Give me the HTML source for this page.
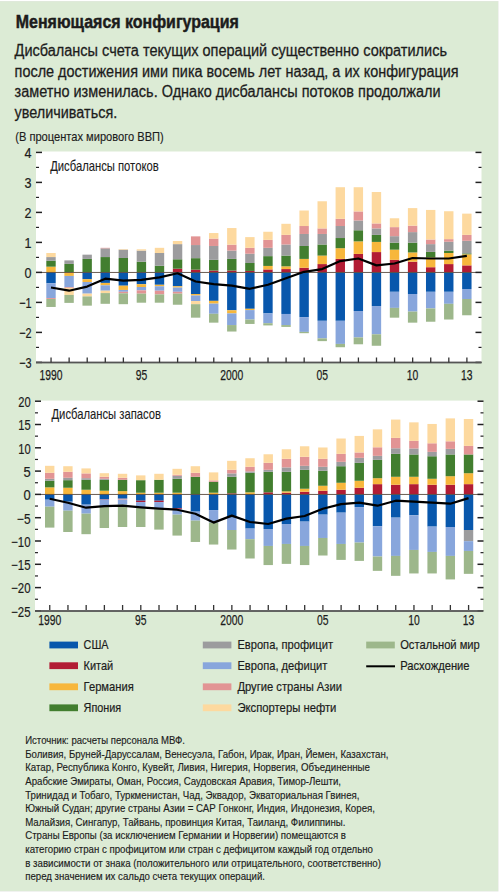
<!DOCTYPE html>
<html><head><meta charset="utf-8"><style>
html,body{margin:0;padding:0;background:#fff;width:500px;height:893px;overflow:hidden}
svg{position:absolute;left:0;top:0;display:block}
text{font-family:'Liberation Sans', sans-serif}
</style></head><body>
<svg width="500" height="893" viewBox="0 0 500 893">
<rect x="0" y="1" width="498.5" height="890.5" fill="#e2e6df"/>
<rect x="0" y="1.5" width="498" height="889.5" fill="#dcebd5"/>
<rect x="36" y="151.5" width="445.5" height="211.0" fill="#fff"/>
<rect x="46.30" y="266.67" width="9.4" height="5.73" fill="#f7b73c"/>
<rect x="46.30" y="260.76" width="9.4" height="5.91" fill="#427e2f"/>
<rect x="46.30" y="257.06" width="9.4" height="3.70" fill="#9c9c9e"/>
<rect x="46.30" y="253.00" width="9.4" height="4.07" fill="#fdd99f"/>
<rect x="46.30" y="272.40" width="9.4" height="10.90" fill="#0857ac"/>
<rect x="46.30" y="283.30" width="9.4" height="14.78" fill="#88a6dc"/>
<rect x="46.30" y="298.08" width="9.4" height="0.92" fill="#e29494"/>
<rect x="46.30" y="299.01" width="9.4" height="7.95" fill="#9db78b"/>
<rect x="64.38" y="263.90" width="9.4" height="8.50" fill="#427e2f"/>
<rect x="64.38" y="260.39" width="9.4" height="3.51" fill="#9c9c9e"/>
<rect x="64.38" y="272.40" width="9.4" height="3.51" fill="#f7b73c"/>
<rect x="64.38" y="275.91" width="9.4" height="11.27" fill="#88a6dc"/>
<rect x="64.38" y="287.18" width="9.4" height="0.74" fill="#e29494"/>
<rect x="64.38" y="287.92" width="9.4" height="7.02" fill="#fdd99f"/>
<rect x="64.38" y="294.94" width="9.4" height="7.95" fill="#9db78b"/>
<rect x="82.46" y="258.91" width="9.4" height="13.49" fill="#427e2f"/>
<rect x="82.46" y="254.66" width="9.4" height="4.25" fill="#9c9c9e"/>
<rect x="82.46" y="272.40" width="9.4" height="6.84" fill="#0857ac"/>
<rect x="82.46" y="279.24" width="9.4" height="2.77" fill="#f7b73c"/>
<rect x="82.46" y="282.01" width="9.4" height="11.64" fill="#88a6dc"/>
<rect x="82.46" y="293.65" width="9.4" height="2.77" fill="#fdd99f"/>
<rect x="82.46" y="296.42" width="9.4" height="9.24" fill="#9db78b"/>
<rect x="100.54" y="257.06" width="9.4" height="15.34" fill="#427e2f"/>
<rect x="100.54" y="248.38" width="9.4" height="8.68" fill="#9c9c9e"/>
<rect x="100.54" y="247.82" width="9.4" height="0.55" fill="#e29494"/>
<rect x="100.54" y="272.40" width="9.4" height="10.53" fill="#0857ac"/>
<rect x="100.54" y="282.93" width="9.4" height="2.40" fill="#f7b73c"/>
<rect x="100.54" y="285.33" width="9.4" height="5.36" fill="#88a6dc"/>
<rect x="100.54" y="290.69" width="9.4" height="2.40" fill="#fdd99f"/>
<rect x="100.54" y="293.09" width="9.4" height="10.72" fill="#9db78b"/>
<rect x="118.62" y="257.99" width="9.4" height="14.41" fill="#427e2f"/>
<rect x="118.62" y="249.67" width="9.4" height="8.31" fill="#9c9c9e"/>
<rect x="118.62" y="249.12" width="9.4" height="0.55" fill="#fdd99f"/>
<rect x="118.62" y="272.40" width="9.4" height="13.30" fill="#0857ac"/>
<rect x="118.62" y="285.70" width="9.4" height="4.25" fill="#f7b73c"/>
<rect x="118.62" y="289.95" width="9.4" height="1.85" fill="#88a6dc"/>
<rect x="118.62" y="291.80" width="9.4" height="1.48" fill="#e29494"/>
<rect x="118.62" y="293.28" width="9.4" height="10.90" fill="#9db78b"/>
<rect x="136.70" y="261.68" width="9.4" height="10.72" fill="#427e2f"/>
<rect x="136.70" y="250.59" width="9.4" height="11.09" fill="#9c9c9e"/>
<rect x="136.70" y="249.30" width="9.4" height="1.29" fill="#fdd99f"/>
<rect x="136.70" y="272.40" width="9.4" height="11.82" fill="#0857ac"/>
<rect x="136.70" y="284.22" width="9.4" height="2.77" fill="#f7b73c"/>
<rect x="136.70" y="287.00" width="9.4" height="3.33" fill="#88a6dc"/>
<rect x="136.70" y="290.32" width="9.4" height="3.33" fill="#e29494"/>
<rect x="136.70" y="293.65" width="9.4" height="9.05" fill="#9db78b"/>
<rect x="154.78" y="265.75" width="9.4" height="6.65" fill="#427e2f"/>
<rect x="154.78" y="253.00" width="9.4" height="12.75" fill="#9c9c9e"/>
<rect x="154.78" y="247.82" width="9.4" height="5.17" fill="#fdd99f"/>
<rect x="154.78" y="272.40" width="9.4" height="12.38" fill="#0857ac"/>
<rect x="154.78" y="284.78" width="9.4" height="1.48" fill="#f7b73c"/>
<rect x="154.78" y="286.26" width="9.4" height="4.43" fill="#88a6dc"/>
<rect x="154.78" y="290.69" width="9.4" height="3.70" fill="#e29494"/>
<rect x="154.78" y="294.39" width="9.4" height="8.31" fill="#9db78b"/>
<rect x="172.86" y="268.70" width="9.4" height="3.70" fill="#b21c34"/>
<rect x="172.86" y="259.28" width="9.4" height="9.42" fill="#427e2f"/>
<rect x="172.86" y="244.13" width="9.4" height="15.15" fill="#9c9c9e"/>
<rect x="172.86" y="240.99" width="9.4" height="3.14" fill="#fdd99f"/>
<rect x="172.86" y="272.40" width="9.4" height="13.86" fill="#0857ac"/>
<rect x="172.86" y="286.26" width="9.4" height="1.29" fill="#f7b73c"/>
<rect x="172.86" y="287.55" width="9.4" height="4.25" fill="#88a6dc"/>
<rect x="172.86" y="291.80" width="9.4" height="1.85" fill="#e29494"/>
<rect x="172.86" y="293.65" width="9.4" height="11.09" fill="#9db78b"/>
<rect x="190.94" y="269.63" width="9.4" height="2.77" fill="#b21c34"/>
<rect x="190.94" y="258.17" width="9.4" height="11.46" fill="#427e2f"/>
<rect x="190.94" y="245.05" width="9.4" height="13.12" fill="#9c9c9e"/>
<rect x="190.94" y="236.37" width="9.4" height="8.68" fill="#e29494"/>
<rect x="190.94" y="272.40" width="9.4" height="21.62" fill="#0857ac"/>
<rect x="190.94" y="294.02" width="9.4" height="1.48" fill="#f7b73c"/>
<rect x="190.94" y="295.50" width="9.4" height="5.54" fill="#88a6dc"/>
<rect x="190.94" y="301.04" width="9.4" height="3.14" fill="#fdd99f"/>
<rect x="190.94" y="304.18" width="9.4" height="13.49" fill="#9db78b"/>
<rect x="209.02" y="270.55" width="9.4" height="1.85" fill="#b21c34"/>
<rect x="209.02" y="259.83" width="9.4" height="10.72" fill="#427e2f"/>
<rect x="209.02" y="245.98" width="9.4" height="13.86" fill="#9c9c9e"/>
<rect x="209.02" y="238.58" width="9.4" height="7.39" fill="#e29494"/>
<rect x="209.02" y="233.04" width="9.4" height="5.54" fill="#fdd99f"/>
<rect x="209.02" y="272.40" width="9.4" height="28.45" fill="#0857ac"/>
<rect x="209.02" y="300.85" width="9.4" height="2.77" fill="#f7b73c"/>
<rect x="209.02" y="303.63" width="9.4" height="10.16" fill="#88a6dc"/>
<rect x="209.02" y="313.79" width="9.4" height="8.87" fill="#9db78b"/>
<rect x="227.10" y="270.55" width="9.4" height="1.85" fill="#b21c34"/>
<rect x="227.10" y="258.91" width="9.4" height="11.64" fill="#427e2f"/>
<rect x="227.10" y="250.59" width="9.4" height="8.31" fill="#9c9c9e"/>
<rect x="227.10" y="244.68" width="9.4" height="5.91" fill="#e29494"/>
<rect x="227.10" y="228.05" width="9.4" height="16.63" fill="#fdd99f"/>
<rect x="227.10" y="272.40" width="9.4" height="37.88" fill="#0857ac"/>
<rect x="227.10" y="310.28" width="9.4" height="3.14" fill="#f7b73c"/>
<rect x="227.10" y="313.42" width="9.4" height="11.64" fill="#88a6dc"/>
<rect x="227.10" y="325.06" width="9.4" height="6.47" fill="#9db78b"/>
<rect x="245.18" y="270.92" width="9.4" height="1.48" fill="#b21c34"/>
<rect x="245.18" y="262.97" width="9.4" height="7.95" fill="#427e2f"/>
<rect x="245.18" y="253.74" width="9.4" height="9.24" fill="#9c9c9e"/>
<rect x="245.18" y="247.82" width="9.4" height="5.91" fill="#e29494"/>
<rect x="245.18" y="237.11" width="9.4" height="10.72" fill="#fdd99f"/>
<rect x="245.18" y="272.40" width="9.4" height="36.40" fill="#0857ac"/>
<rect x="245.18" y="308.80" width="9.4" height="1.29" fill="#f7b73c"/>
<rect x="245.18" y="310.09" width="9.4" height="9.42" fill="#88a6dc"/>
<rect x="245.18" y="319.52" width="9.4" height="4.43" fill="#9db78b"/>
<rect x="263.26" y="269.44" width="9.4" height="2.96" fill="#b21c34"/>
<rect x="263.26" y="265.93" width="9.4" height="3.51" fill="#f7b73c"/>
<rect x="263.26" y="256.14" width="9.4" height="9.79" fill="#427e2f"/>
<rect x="263.26" y="247.82" width="9.4" height="8.31" fill="#9c9c9e"/>
<rect x="263.26" y="239.88" width="9.4" height="7.95" fill="#e29494"/>
<rect x="263.26" y="231.75" width="9.4" height="8.13" fill="#fdd99f"/>
<rect x="263.26" y="272.40" width="9.4" height="41.02" fill="#0857ac"/>
<rect x="263.26" y="313.42" width="9.4" height="9.79" fill="#88a6dc"/>
<rect x="263.26" y="323.21" width="9.4" height="2.22" fill="#9db78b"/>
<rect x="281.34" y="269.07" width="9.4" height="3.33" fill="#b21c34"/>
<rect x="281.34" y="266.30" width="9.4" height="2.77" fill="#f7b73c"/>
<rect x="281.34" y="255.58" width="9.4" height="10.72" fill="#427e2f"/>
<rect x="281.34" y="244.50" width="9.4" height="11.09" fill="#9c9c9e"/>
<rect x="281.34" y="234.89" width="9.4" height="9.61" fill="#e29494"/>
<rect x="281.34" y="223.80" width="9.4" height="11.09" fill="#fdd99f"/>
<rect x="281.34" y="272.40" width="9.4" height="41.57" fill="#0857ac"/>
<rect x="281.34" y="313.97" width="9.4" height="11.09" fill="#88a6dc"/>
<rect x="281.34" y="325.06" width="9.4" height="1.85" fill="#9db78b"/>
<rect x="299.42" y="267.78" width="9.4" height="4.62" fill="#b21c34"/>
<rect x="299.42" y="258.91" width="9.4" height="8.87" fill="#f7b73c"/>
<rect x="299.42" y="245.98" width="9.4" height="12.93" fill="#427e2f"/>
<rect x="299.42" y="233.97" width="9.4" height="12.01" fill="#9c9c9e"/>
<rect x="299.42" y="226.02" width="9.4" height="7.95" fill="#e29494"/>
<rect x="299.42" y="210.50" width="9.4" height="15.52" fill="#fdd99f"/>
<rect x="299.42" y="272.40" width="9.4" height="44.71" fill="#0857ac"/>
<rect x="299.42" y="317.11" width="9.4" height="14.78" fill="#88a6dc"/>
<rect x="299.42" y="331.90" width="9.4" height="1.29" fill="#9db78b"/>
<rect x="317.50" y="264.08" width="9.4" height="8.32" fill="#b21c34"/>
<rect x="317.50" y="255.58" width="9.4" height="8.50" fill="#f7b73c"/>
<rect x="317.50" y="244.50" width="9.4" height="11.09" fill="#427e2f"/>
<rect x="317.50" y="233.97" width="9.4" height="10.53" fill="#9c9c9e"/>
<rect x="317.50" y="228.42" width="9.4" height="5.54" fill="#e29494"/>
<rect x="317.50" y="201.26" width="9.4" height="27.16" fill="#fdd99f"/>
<rect x="317.50" y="272.40" width="9.4" height="48.41" fill="#0857ac"/>
<rect x="317.50" y="320.81" width="9.4" height="17.55" fill="#88a6dc"/>
<rect x="317.50" y="338.36" width="9.4" height="2.77" fill="#9db78b"/>
<rect x="335.58" y="258.91" width="9.4" height="13.49" fill="#b21c34"/>
<rect x="335.58" y="248.19" width="9.4" height="10.72" fill="#f7b73c"/>
<rect x="335.58" y="238.03" width="9.4" height="10.16" fill="#427e2f"/>
<rect x="335.58" y="226.02" width="9.4" height="12.01" fill="#9c9c9e"/>
<rect x="335.58" y="218.81" width="9.4" height="7.21" fill="#e29494"/>
<rect x="335.58" y="187.22" width="9.4" height="31.60" fill="#fdd99f"/>
<rect x="335.58" y="272.40" width="9.4" height="48.41" fill="#0857ac"/>
<rect x="335.58" y="320.81" width="9.4" height="23.10" fill="#88a6dc"/>
<rect x="335.58" y="343.91" width="9.4" height="3.33" fill="#9db78b"/>
<rect x="353.66" y="253.92" width="9.4" height="18.48" fill="#b21c34"/>
<rect x="353.66" y="241.36" width="9.4" height="12.56" fill="#f7b73c"/>
<rect x="353.66" y="230.27" width="9.4" height="11.09" fill="#427e2f"/>
<rect x="353.66" y="220.48" width="9.4" height="9.79" fill="#9c9c9e"/>
<rect x="353.66" y="211.42" width="9.4" height="9.05" fill="#e29494"/>
<rect x="353.66" y="187.22" width="9.4" height="24.21" fill="#fdd99f"/>
<rect x="353.66" y="272.40" width="9.4" height="38.62" fill="#0857ac"/>
<rect x="353.66" y="311.02" width="9.4" height="26.42" fill="#88a6dc"/>
<rect x="353.66" y="337.44" width="9.4" height="6.84" fill="#9db78b"/>
<rect x="371.74" y="252.07" width="9.4" height="20.33" fill="#b21c34"/>
<rect x="371.74" y="241.91" width="9.4" height="10.16" fill="#f7b73c"/>
<rect x="371.74" y="234.89" width="9.4" height="7.02" fill="#427e2f"/>
<rect x="371.74" y="228.42" width="9.4" height="6.47" fill="#9c9c9e"/>
<rect x="371.74" y="223.43" width="9.4" height="4.99" fill="#e29494"/>
<rect x="371.74" y="192.02" width="9.4" height="31.41" fill="#fdd99f"/>
<rect x="371.74" y="272.40" width="9.4" height="33.63" fill="#0857ac"/>
<rect x="371.74" y="306.03" width="9.4" height="28.27" fill="#88a6dc"/>
<rect x="371.74" y="334.30" width="9.4" height="11.46" fill="#9db78b"/>
<rect x="389.82" y="259.83" width="9.4" height="12.57" fill="#b21c34"/>
<rect x="389.82" y="249.67" width="9.4" height="10.16" fill="#f7b73c"/>
<rect x="389.82" y="242.65" width="9.4" height="7.02" fill="#427e2f"/>
<rect x="389.82" y="236.18" width="9.4" height="6.47" fill="#9c9c9e"/>
<rect x="389.82" y="227.13" width="9.4" height="9.05" fill="#e29494"/>
<rect x="389.82" y="218.26" width="9.4" height="8.87" fill="#fdd99f"/>
<rect x="389.82" y="272.40" width="9.4" height="19.40" fill="#0857ac"/>
<rect x="389.82" y="291.80" width="9.4" height="16.08" fill="#88a6dc"/>
<rect x="389.82" y="307.88" width="9.4" height="9.79" fill="#9db78b"/>
<rect x="407.90" y="261.68" width="9.4" height="10.72" fill="#b21c34"/>
<rect x="407.90" y="252.44" width="9.4" height="9.24" fill="#f7b73c"/>
<rect x="407.90" y="242.65" width="9.4" height="9.79" fill="#427e2f"/>
<rect x="407.90" y="232.12" width="9.4" height="10.53" fill="#9c9c9e"/>
<rect x="407.90" y="225.65" width="9.4" height="6.47" fill="#e29494"/>
<rect x="407.90" y="208.10" width="9.4" height="17.55" fill="#fdd99f"/>
<rect x="407.90" y="272.40" width="9.4" height="21.62" fill="#0857ac"/>
<rect x="407.90" y="294.02" width="9.4" height="17.55" fill="#88a6dc"/>
<rect x="407.90" y="311.57" width="9.4" height="11.09" fill="#9db78b"/>
<rect x="425.98" y="267.22" width="9.4" height="5.18" fill="#b21c34"/>
<rect x="425.98" y="257.43" width="9.4" height="9.79" fill="#f7b73c"/>
<rect x="425.98" y="251.89" width="9.4" height="5.54" fill="#427e2f"/>
<rect x="425.98" y="244.13" width="9.4" height="7.76" fill="#9c9c9e"/>
<rect x="425.98" y="239.51" width="9.4" height="4.62" fill="#e29494"/>
<rect x="425.98" y="209.94" width="9.4" height="29.56" fill="#fdd99f"/>
<rect x="425.98" y="272.40" width="9.4" height="19.40" fill="#0857ac"/>
<rect x="425.98" y="291.80" width="9.4" height="16.63" fill="#88a6dc"/>
<rect x="425.98" y="308.43" width="9.4" height="13.30" fill="#9db78b"/>
<rect x="444.06" y="264.08" width="9.4" height="8.32" fill="#b21c34"/>
<rect x="444.06" y="253.00" width="9.4" height="11.09" fill="#f7b73c"/>
<rect x="444.06" y="250.59" width="9.4" height="2.40" fill="#427e2f"/>
<rect x="444.06" y="241.73" width="9.4" height="8.87" fill="#9c9c9e"/>
<rect x="444.06" y="239.14" width="9.4" height="2.59" fill="#e29494"/>
<rect x="444.06" y="211.24" width="9.4" height="27.90" fill="#fdd99f"/>
<rect x="444.06" y="272.40" width="9.4" height="19.40" fill="#0857ac"/>
<rect x="444.06" y="291.80" width="9.4" height="12.01" fill="#88a6dc"/>
<rect x="444.06" y="303.81" width="9.4" height="15.71" fill="#9db78b"/>
<rect x="462.14" y="265.38" width="9.4" height="7.02" fill="#b21c34"/>
<rect x="462.14" y="254.29" width="9.4" height="11.09" fill="#f7b73c"/>
<rect x="462.14" y="253.37" width="9.4" height="0.92" fill="#427e2f"/>
<rect x="462.14" y="240.80" width="9.4" height="12.56" fill="#9c9c9e"/>
<rect x="462.14" y="234.89" width="9.4" height="5.91" fill="#e29494"/>
<rect x="462.14" y="213.64" width="9.4" height="21.25" fill="#fdd99f"/>
<rect x="462.14" y="272.40" width="9.4" height="16.63" fill="#0857ac"/>
<rect x="462.14" y="289.03" width="9.4" height="9.98" fill="#88a6dc"/>
<rect x="462.14" y="299.01" width="9.4" height="16.26" fill="#9db78b"/>
<rect x="36" y="271.95" width="445.5" height="0.9" fill="#5a4a3e"/>
<polyline points="51.00,287.5 69.08,290.7 87.16,286.6 105.24,278.7 123.32,280.7 141.40,279.8 159.48,277.4 177.56,273.3 195.64,281.5 213.72,284.2 231.80,285.7 249.88,288.8 267.96,284.8 286.04,278.3 304.12,271.8 322.20,269.1 340.28,261.1 358.36,258.5 376.44,265.4 394.52,263.5 412.60,258.0 430.68,258.5 448.76,258.5 466.84,255.8" fill="none" stroke="#000" stroke-width="2.2" stroke-linejoin="round"/>
<rect x="36" y="151.65" width="6" height="1.5" fill="#222"/>
<rect x="475.5" y="151.65" width="6" height="1.5" fill="#222"/>
<rect x="36" y="166.80" width="3" height="1.2" fill="#222"/>
<rect x="478.5" y="166.80" width="3" height="1.2" fill="#222"/>
<text x="31.6" y="157.6" font-size="14.6" font-weight="normal" text-anchor="end" fill="#1c1c1c" textLength="7.0" lengthAdjust="spacingAndGlyphs" stroke="#1c1c1c" stroke-width="0.2">4</text>
<rect x="36" y="181.65" width="6" height="1.5" fill="#222"/>
<rect x="475.5" y="181.65" width="6" height="1.5" fill="#222"/>
<rect x="36" y="196.80" width="3" height="1.2" fill="#222"/>
<rect x="478.5" y="196.80" width="3" height="1.2" fill="#222"/>
<text x="31.6" y="187.6" font-size="14.6" font-weight="normal" text-anchor="end" fill="#1c1c1c" textLength="7.0" lengthAdjust="spacingAndGlyphs" stroke="#1c1c1c" stroke-width="0.2">3</text>
<rect x="36" y="211.65" width="6" height="1.5" fill="#222"/>
<rect x="475.5" y="211.65" width="6" height="1.5" fill="#222"/>
<rect x="36" y="226.80" width="3" height="1.2" fill="#222"/>
<rect x="478.5" y="226.80" width="3" height="1.2" fill="#222"/>
<text x="31.6" y="217.6" font-size="14.6" font-weight="normal" text-anchor="end" fill="#1c1c1c" textLength="7.0" lengthAdjust="spacingAndGlyphs" stroke="#1c1c1c" stroke-width="0.2">2</text>
<rect x="36" y="241.65" width="6" height="1.5" fill="#222"/>
<rect x="475.5" y="241.65" width="6" height="1.5" fill="#222"/>
<rect x="36" y="256.80" width="3" height="1.2" fill="#222"/>
<rect x="478.5" y="256.80" width="3" height="1.2" fill="#222"/>
<text x="31.6" y="247.6" font-size="14.6" font-weight="normal" text-anchor="end" fill="#1c1c1c" textLength="7.0" lengthAdjust="spacingAndGlyphs" stroke="#1c1c1c" stroke-width="0.2">1</text>
<rect x="36" y="271.65" width="6" height="1.5" fill="#222"/>
<rect x="475.5" y="271.65" width="6" height="1.5" fill="#222"/>
<rect x="36" y="286.80" width="3" height="1.2" fill="#222"/>
<rect x="478.5" y="286.80" width="3" height="1.2" fill="#222"/>
<text x="31.6" y="277.6" font-size="14.6" font-weight="normal" text-anchor="end" fill="#1c1c1c" textLength="7.0" lengthAdjust="spacingAndGlyphs" stroke="#1c1c1c" stroke-width="0.2">0</text>
<rect x="36" y="301.65" width="6" height="1.5" fill="#222"/>
<rect x="475.5" y="301.65" width="6" height="1.5" fill="#222"/>
<rect x="36" y="316.80" width="3" height="1.2" fill="#222"/>
<rect x="478.5" y="316.80" width="3" height="1.2" fill="#222"/>
<text x="31.6" y="307.6" font-size="14.6" font-weight="normal" text-anchor="end" fill="#1c1c1c" textLength="12.4" lengthAdjust="spacingAndGlyphs" stroke="#1c1c1c" stroke-width="0.2">−1</text>
<rect x="36" y="331.65" width="6" height="1.5" fill="#222"/>
<rect x="475.5" y="331.65" width="6" height="1.5" fill="#222"/>
<rect x="36" y="346.80" width="3" height="1.2" fill="#222"/>
<rect x="478.5" y="346.80" width="3" height="1.2" fill="#222"/>
<text x="31.6" y="337.6" font-size="14.6" font-weight="normal" text-anchor="end" fill="#1c1c1c" textLength="12.4" lengthAdjust="spacingAndGlyphs" stroke="#1c1c1c" stroke-width="0.2">−2</text>
<rect x="36" y="361.65" width="6" height="1.5" fill="#222"/>
<rect x="475.5" y="361.65" width="6" height="1.5" fill="#222"/>
<text x="31.6" y="367.6" font-size="14.6" font-weight="normal" text-anchor="end" fill="#1c1c1c" textLength="12.4" lengthAdjust="spacingAndGlyphs" stroke="#1c1c1c" stroke-width="0.2">−3</text>
<rect x="36" y="361.6" width="445.5" height="1.8" fill="#555"/>
<rect x="50.40" y="357.5" width="1.3" height="5" fill="#333"/>
<rect x="68.48" y="357.5" width="1.3" height="5" fill="#333"/>
<rect x="86.56" y="357.5" width="1.3" height="5" fill="#333"/>
<rect x="104.64" y="357.5" width="1.3" height="5" fill="#333"/>
<rect x="122.72" y="357.5" width="1.3" height="5" fill="#333"/>
<rect x="140.80" y="357.5" width="1.3" height="5" fill="#333"/>
<rect x="158.88" y="357.5" width="1.3" height="5" fill="#333"/>
<rect x="176.96" y="357.5" width="1.3" height="5" fill="#333"/>
<rect x="195.04" y="357.5" width="1.3" height="5" fill="#333"/>
<rect x="213.12" y="357.5" width="1.3" height="5" fill="#333"/>
<rect x="231.20" y="357.5" width="1.3" height="5" fill="#333"/>
<rect x="249.28" y="357.5" width="1.3" height="5" fill="#333"/>
<rect x="267.36" y="357.5" width="1.3" height="5" fill="#333"/>
<rect x="285.44" y="357.5" width="1.3" height="5" fill="#333"/>
<rect x="303.52" y="357.5" width="1.3" height="5" fill="#333"/>
<rect x="321.60" y="357.5" width="1.3" height="5" fill="#333"/>
<rect x="339.68" y="357.5" width="1.3" height="5" fill="#333"/>
<rect x="357.76" y="357.5" width="1.3" height="5" fill="#333"/>
<rect x="375.84" y="357.5" width="1.3" height="5" fill="#333"/>
<rect x="393.92" y="357.5" width="1.3" height="5" fill="#333"/>
<rect x="412.00" y="357.5" width="1.3" height="5" fill="#333"/>
<rect x="430.08" y="357.5" width="1.3" height="5" fill="#333"/>
<rect x="448.16" y="357.5" width="1.3" height="5" fill="#333"/>
<rect x="466.24" y="357.5" width="1.3" height="5" fill="#333"/>
<text x="51.00" y="379.7" font-size="15" font-weight="normal" text-anchor="middle" fill="#1c1c1c" textLength="23" lengthAdjust="spacingAndGlyphs" stroke="#1c1c1c" stroke-width="0.25">1990</text>
<text x="141.40" y="379.7" font-size="15" font-weight="normal" text-anchor="middle" fill="#1c1c1c" textLength="11.5" lengthAdjust="spacingAndGlyphs" stroke="#1c1c1c" stroke-width="0.25">95</text>
<text x="231.80" y="379.7" font-size="15" font-weight="normal" text-anchor="middle" fill="#1c1c1c" textLength="23" lengthAdjust="spacingAndGlyphs" stroke="#1c1c1c" stroke-width="0.25">2000</text>
<text x="322.20" y="379.7" font-size="15" font-weight="normal" text-anchor="middle" fill="#1c1c1c" textLength="11.5" lengthAdjust="spacingAndGlyphs" stroke="#1c1c1c" stroke-width="0.25">05</text>
<text x="412.60" y="379.7" font-size="15" font-weight="normal" text-anchor="middle" fill="#1c1c1c" textLength="11.5" lengthAdjust="spacingAndGlyphs" stroke="#1c1c1c" stroke-width="0.25">10</text>
<text x="466.84" y="379.7" font-size="15" font-weight="normal" text-anchor="middle" fill="#1c1c1c" textLength="11.5" lengthAdjust="spacingAndGlyphs" stroke="#1c1c1c" stroke-width="0.25">13</text>
<text x="50.2" y="170.5" font-size="15" font-weight="normal" text-anchor="start" fill="#1c1c1c" textLength="108.5" lengthAdjust="spacingAndGlyphs" stroke="#1c1c1c" stroke-width="0.12">Дисбалансы потоков</text>
<rect x="35" y="400.6" width="448" height="210.39999999999998" fill="#fff"/>
<rect x="45.00" y="487.34" width="9.4" height="7.06" fill="#f7b73c"/>
<rect x="45.00" y="480.77" width="9.4" height="6.58" fill="#427e2f"/>
<rect x="45.00" y="478.77" width="9.4" height="1.99" fill="#9c9c9e"/>
<rect x="45.00" y="472.79" width="9.4" height="5.98" fill="#e29494"/>
<rect x="45.00" y="465.82" width="9.4" height="6.98" fill="#fdd99f"/>
<rect x="45.00" y="494.40" width="9.4" height="5.30" fill="#0857ac"/>
<rect x="45.00" y="499.70" width="9.4" height="6.98" fill="#88a6dc"/>
<rect x="45.00" y="506.68" width="9.4" height="20.93" fill="#9db78b"/>
<rect x="63.21" y="487.74" width="9.4" height="6.66" fill="#f7b73c"/>
<rect x="63.21" y="480.17" width="9.4" height="7.57" fill="#427e2f"/>
<rect x="63.21" y="477.78" width="9.4" height="2.39" fill="#9c9c9e"/>
<rect x="63.21" y="471.80" width="9.4" height="5.98" fill="#e29494"/>
<rect x="63.21" y="466.22" width="9.4" height="5.58" fill="#fdd99f"/>
<rect x="63.21" y="494.40" width="9.4" height="7.30" fill="#0857ac"/>
<rect x="63.21" y="501.70" width="9.4" height="8.97" fill="#88a6dc"/>
<rect x="63.21" y="510.66" width="9.4" height="21.33" fill="#9db78b"/>
<rect x="81.42" y="489.74" width="9.4" height="4.66" fill="#f7b73c"/>
<rect x="81.42" y="479.77" width="9.4" height="9.97" fill="#427e2f"/>
<rect x="81.42" y="478.18" width="9.4" height="1.59" fill="#9c9c9e"/>
<rect x="81.42" y="473.39" width="9.4" height="4.78" fill="#e29494"/>
<rect x="81.42" y="468.41" width="9.4" height="4.98" fill="#fdd99f"/>
<rect x="81.42" y="494.40" width="9.4" height="10.28" fill="#0857ac"/>
<rect x="81.42" y="504.68" width="9.4" height="8.97" fill="#88a6dc"/>
<rect x="81.42" y="513.65" width="9.4" height="20.53" fill="#9db78b"/>
<rect x="99.63" y="490.73" width="9.4" height="3.67" fill="#f7b73c"/>
<rect x="99.63" y="479.77" width="9.4" height="10.96" fill="#427e2f"/>
<rect x="99.63" y="478.77" width="9.4" height="1.00" fill="#9c9c9e"/>
<rect x="99.63" y="476.78" width="9.4" height="1.99" fill="#e29494"/>
<rect x="99.63" y="473.19" width="9.4" height="3.59" fill="#fdd99f"/>
<rect x="99.63" y="494.40" width="9.4" height="4.90" fill="#0857ac"/>
<rect x="99.63" y="499.30" width="9.4" height="0.40" fill="#b21c34"/>
<rect x="99.63" y="499.70" width="9.4" height="6.98" fill="#88a6dc"/>
<rect x="99.63" y="506.68" width="9.4" height="21.33" fill="#9db78b"/>
<rect x="117.84" y="491.13" width="9.4" height="3.27" fill="#f7b73c"/>
<rect x="117.84" y="479.77" width="9.4" height="11.36" fill="#427e2f"/>
<rect x="117.84" y="477.78" width="9.4" height="1.99" fill="#e29494"/>
<rect x="117.84" y="473.79" width="9.4" height="3.99" fill="#fdd99f"/>
<rect x="117.84" y="494.40" width="9.4" height="4.31" fill="#0857ac"/>
<rect x="117.84" y="498.71" width="9.4" height="1.00" fill="#e29494"/>
<rect x="117.84" y="499.70" width="9.4" height="4.98" fill="#88a6dc"/>
<rect x="117.84" y="504.68" width="9.4" height="22.32" fill="#9db78b"/>
<rect x="136.05" y="492.73" width="9.4" height="1.67" fill="#f7b73c"/>
<rect x="136.05" y="480.17" width="9.4" height="12.56" fill="#427e2f"/>
<rect x="136.05" y="475.38" width="9.4" height="4.78" fill="#fdd99f"/>
<rect x="136.05" y="494.40" width="9.4" height="6.30" fill="#0857ac"/>
<rect x="136.05" y="500.70" width="9.4" height="1.40" fill="#b21c34"/>
<rect x="136.05" y="502.09" width="9.4" height="5.98" fill="#88a6dc"/>
<rect x="136.05" y="508.07" width="9.4" height="18.94" fill="#9db78b"/>
<rect x="154.26" y="492.73" width="9.4" height="1.67" fill="#f7b73c"/>
<rect x="154.26" y="479.77" width="9.4" height="12.96" fill="#427e2f"/>
<rect x="154.26" y="473.79" width="9.4" height="5.98" fill="#fdd99f"/>
<rect x="154.26" y="494.40" width="9.4" height="6.30" fill="#0857ac"/>
<rect x="154.26" y="500.70" width="9.4" height="1.40" fill="#b21c34"/>
<rect x="154.26" y="502.09" width="9.4" height="7.18" fill="#88a6dc"/>
<rect x="154.26" y="509.27" width="9.4" height="20.33" fill="#9db78b"/>
<rect x="172.47" y="492.73" width="9.4" height="1.67" fill="#f7b73c"/>
<rect x="172.47" y="478.77" width="9.4" height="13.95" fill="#427e2f"/>
<rect x="172.47" y="475.78" width="9.4" height="2.99" fill="#9c9c9e"/>
<rect x="172.47" y="474.79" width="9.4" height="1.00" fill="#e29494"/>
<rect x="172.47" y="468.81" width="9.4" height="5.98" fill="#fdd99f"/>
<rect x="172.47" y="494.40" width="9.4" height="13.87" fill="#0857ac"/>
<rect x="172.47" y="508.27" width="9.4" height="1.00" fill="#b21c34"/>
<rect x="172.47" y="509.27" width="9.4" height="5.38" fill="#88a6dc"/>
<rect x="172.47" y="514.65" width="9.4" height="20.93" fill="#9db78b"/>
<rect x="190.68" y="476.78" width="9.4" height="17.62" fill="#427e2f"/>
<rect x="190.68" y="472.79" width="9.4" height="3.99" fill="#e29494"/>
<rect x="190.68" y="466.22" width="9.4" height="6.58" fill="#fdd99f"/>
<rect x="190.68" y="494.40" width="9.4" height="17.26" fill="#0857ac"/>
<rect x="190.68" y="511.66" width="9.4" height="8.97" fill="#88a6dc"/>
<rect x="190.68" y="520.63" width="9.4" height="21.33" fill="#9db78b"/>
<rect x="208.89" y="492.73" width="9.4" height="1.67" fill="#f7b73c"/>
<rect x="208.89" y="481.76" width="9.4" height="10.96" fill="#427e2f"/>
<rect x="208.89" y="480.37" width="9.4" height="1.40" fill="#e29494"/>
<rect x="208.89" y="472.39" width="9.4" height="7.97" fill="#fdd99f"/>
<rect x="208.89" y="494.40" width="9.4" height="15.67" fill="#0857ac"/>
<rect x="208.89" y="510.07" width="9.4" height="12.56" fill="#88a6dc"/>
<rect x="208.89" y="522.62" width="9.4" height="21.93" fill="#9db78b"/>
<rect x="227.10" y="493.32" width="9.4" height="1.08" fill="#b21c34"/>
<rect x="227.10" y="476.78" width="9.4" height="16.54" fill="#427e2f"/>
<rect x="227.10" y="473.39" width="9.4" height="3.39" fill="#9c9c9e"/>
<rect x="227.10" y="469.80" width="9.4" height="3.59" fill="#e29494"/>
<rect x="227.10" y="460.83" width="9.4" height="8.97" fill="#fdd99f"/>
<rect x="227.10" y="494.40" width="9.4" height="23.24" fill="#0857ac"/>
<rect x="227.10" y="517.64" width="9.4" height="12.36" fill="#88a6dc"/>
<rect x="227.10" y="530.00" width="9.4" height="19.53" fill="#9db78b"/>
<rect x="245.31" y="492.33" width="9.4" height="2.07" fill="#f7b73c"/>
<rect x="245.31" y="472.79" width="9.4" height="19.53" fill="#427e2f"/>
<rect x="245.31" y="471.40" width="9.4" height="1.40" fill="#9c9c9e"/>
<rect x="245.31" y="466.81" width="9.4" height="4.58" fill="#e29494"/>
<rect x="245.31" y="458.24" width="9.4" height="8.57" fill="#fdd99f"/>
<rect x="245.31" y="494.40" width="9.4" height="34.20" fill="#0857ac"/>
<rect x="245.31" y="528.60" width="9.4" height="10.56" fill="#88a6dc"/>
<rect x="245.31" y="539.17" width="9.4" height="19.33" fill="#9db78b"/>
<rect x="263.52" y="492.33" width="9.4" height="2.07" fill="#b21c34"/>
<rect x="263.52" y="471.80" width="9.4" height="20.53" fill="#427e2f"/>
<rect x="263.52" y="469.80" width="9.4" height="1.99" fill="#9c9c9e"/>
<rect x="263.52" y="462.83" width="9.4" height="6.98" fill="#e29494"/>
<rect x="263.52" y="454.26" width="9.4" height="8.57" fill="#fdd99f"/>
<rect x="263.52" y="494.40" width="9.4" height="34.60" fill="#0857ac"/>
<rect x="263.52" y="529.00" width="9.4" height="16.94" fill="#88a6dc"/>
<rect x="263.52" y="545.94" width="9.4" height="19.13" fill="#9db78b"/>
<rect x="281.73" y="492.73" width="9.4" height="1.67" fill="#b21c34"/>
<rect x="281.73" y="491.33" width="9.4" height="1.40" fill="#f7b73c"/>
<rect x="281.73" y="471.80" width="9.4" height="19.53" fill="#427e2f"/>
<rect x="281.73" y="467.41" width="9.4" height="4.39" fill="#9c9c9e"/>
<rect x="281.73" y="458.84" width="9.4" height="8.57" fill="#e29494"/>
<rect x="281.73" y="449.27" width="9.4" height="9.57" fill="#fdd99f"/>
<rect x="281.73" y="494.40" width="9.4" height="29.62" fill="#0857ac"/>
<rect x="281.73" y="524.02" width="9.4" height="19.93" fill="#88a6dc"/>
<rect x="281.73" y="543.95" width="9.4" height="19.93" fill="#9db78b"/>
<rect x="299.94" y="491.73" width="9.4" height="2.67" fill="#b21c34"/>
<rect x="299.94" y="488.74" width="9.4" height="2.99" fill="#f7b73c"/>
<rect x="299.94" y="469.80" width="9.4" height="18.94" fill="#427e2f"/>
<rect x="299.94" y="465.82" width="9.4" height="3.99" fill="#9c9c9e"/>
<rect x="299.94" y="456.85" width="9.4" height="8.97" fill="#e29494"/>
<rect x="299.94" y="446.28" width="9.4" height="10.56" fill="#fdd99f"/>
<rect x="299.94" y="494.40" width="9.4" height="27.23" fill="#0857ac"/>
<rect x="299.94" y="521.63" width="9.4" height="24.32" fill="#88a6dc"/>
<rect x="299.94" y="545.94" width="9.4" height="19.13" fill="#9db78b"/>
<rect x="318.15" y="490.73" width="9.4" height="3.67" fill="#b21c34"/>
<rect x="318.15" y="485.75" width="9.4" height="4.98" fill="#f7b73c"/>
<rect x="318.15" y="470.80" width="9.4" height="14.95" fill="#427e2f"/>
<rect x="318.15" y="466.81" width="9.4" height="3.99" fill="#9c9c9e"/>
<rect x="318.15" y="458.84" width="9.4" height="7.97" fill="#e29494"/>
<rect x="318.15" y="447.48" width="9.4" height="11.36" fill="#fdd99f"/>
<rect x="318.15" y="494.40" width="9.4" height="20.25" fill="#0857ac"/>
<rect x="318.15" y="514.65" width="9.4" height="23.32" fill="#88a6dc"/>
<rect x="318.15" y="537.97" width="9.4" height="17.54" fill="#9db78b"/>
<rect x="336.36" y="489.74" width="9.4" height="4.66" fill="#b21c34"/>
<rect x="336.36" y="482.76" width="9.4" height="6.98" fill="#f7b73c"/>
<rect x="336.36" y="466.22" width="9.4" height="16.54" fill="#427e2f"/>
<rect x="336.36" y="461.83" width="9.4" height="4.39" fill="#9c9c9e"/>
<rect x="336.36" y="453.86" width="9.4" height="7.97" fill="#e29494"/>
<rect x="336.36" y="438.51" width="9.4" height="15.35" fill="#fdd99f"/>
<rect x="336.36" y="494.40" width="9.4" height="18.26" fill="#0857ac"/>
<rect x="336.36" y="512.66" width="9.4" height="31.29" fill="#88a6dc"/>
<rect x="336.36" y="543.95" width="9.4" height="15.95" fill="#9db78b"/>
<rect x="354.57" y="487.74" width="9.4" height="6.66" fill="#b21c34"/>
<rect x="354.57" y="480.77" width="9.4" height="6.98" fill="#f7b73c"/>
<rect x="354.57" y="462.83" width="9.4" height="17.94" fill="#427e2f"/>
<rect x="354.57" y="457.84" width="9.4" height="4.98" fill="#9c9c9e"/>
<rect x="354.57" y="452.46" width="9.4" height="5.38" fill="#e29494"/>
<rect x="354.57" y="435.92" width="9.4" height="16.54" fill="#fdd99f"/>
<rect x="354.57" y="494.40" width="9.4" height="12.68" fill="#0857ac"/>
<rect x="354.57" y="507.08" width="9.4" height="35.48" fill="#88a6dc"/>
<rect x="354.57" y="542.56" width="9.4" height="18.34" fill="#9db78b"/>
<rect x="372.78" y="484.15" width="9.4" height="10.25" fill="#b21c34"/>
<rect x="372.78" y="478.18" width="9.4" height="5.98" fill="#f7b73c"/>
<rect x="372.78" y="459.84" width="9.4" height="18.34" fill="#427e2f"/>
<rect x="372.78" y="455.85" width="9.4" height="3.99" fill="#9c9c9e"/>
<rect x="372.78" y="447.28" width="9.4" height="8.57" fill="#e29494"/>
<rect x="372.78" y="429.34" width="9.4" height="17.94" fill="#fdd99f"/>
<rect x="372.78" y="494.40" width="9.4" height="31.81" fill="#0857ac"/>
<rect x="372.78" y="526.21" width="9.4" height="30.30" fill="#88a6dc"/>
<rect x="372.78" y="556.51" width="9.4" height="14.35" fill="#9db78b"/>
<rect x="390.99" y="484.75" width="9.4" height="9.65" fill="#b21c34"/>
<rect x="390.99" y="476.78" width="9.4" height="7.97" fill="#f7b73c"/>
<rect x="390.99" y="453.86" width="9.4" height="22.92" fill="#427e2f"/>
<rect x="390.99" y="448.28" width="9.4" height="5.58" fill="#9c9c9e"/>
<rect x="390.99" y="437.91" width="9.4" height="10.36" fill="#e29494"/>
<rect x="390.99" y="419.57" width="9.4" height="18.34" fill="#fdd99f"/>
<rect x="390.99" y="494.40" width="9.4" height="23.24" fill="#0857ac"/>
<rect x="390.99" y="517.64" width="9.4" height="38.27" fill="#88a6dc"/>
<rect x="390.99" y="555.91" width="9.4" height="19.93" fill="#9db78b"/>
<rect x="409.20" y="484.15" width="9.4" height="10.25" fill="#b21c34"/>
<rect x="409.20" y="476.78" width="9.4" height="7.37" fill="#f7b73c"/>
<rect x="409.20" y="454.46" width="9.4" height="22.32" fill="#427e2f"/>
<rect x="409.20" y="448.48" width="9.4" height="5.98" fill="#9c9c9e"/>
<rect x="409.20" y="440.90" width="9.4" height="7.57" fill="#e29494"/>
<rect x="409.20" y="422.36" width="9.4" height="18.54" fill="#fdd99f"/>
<rect x="409.20" y="494.40" width="9.4" height="20.85" fill="#0857ac"/>
<rect x="409.20" y="515.25" width="9.4" height="34.68" fill="#88a6dc"/>
<rect x="409.20" y="549.93" width="9.4" height="23.52" fill="#9db78b"/>
<rect x="427.41" y="484.75" width="9.4" height="9.65" fill="#b21c34"/>
<rect x="427.41" y="478.77" width="9.4" height="5.98" fill="#f7b73c"/>
<rect x="427.41" y="456.25" width="9.4" height="22.52" fill="#427e2f"/>
<rect x="427.41" y="451.86" width="9.4" height="4.39" fill="#9c9c9e"/>
<rect x="427.41" y="443.29" width="9.4" height="8.57" fill="#e29494"/>
<rect x="427.41" y="423.96" width="9.4" height="19.33" fill="#fdd99f"/>
<rect x="427.41" y="494.40" width="9.4" height="32.21" fill="#0857ac"/>
<rect x="427.41" y="526.61" width="9.4" height="25.31" fill="#88a6dc"/>
<rect x="427.41" y="551.92" width="9.4" height="21.53" fill="#9db78b"/>
<rect x="445.62" y="484.75" width="9.4" height="9.65" fill="#b21c34"/>
<rect x="445.62" y="476.18" width="9.4" height="8.57" fill="#f7b73c"/>
<rect x="445.62" y="454.46" width="9.4" height="21.73" fill="#427e2f"/>
<rect x="445.62" y="448.87" width="9.4" height="5.58" fill="#9c9c9e"/>
<rect x="445.62" y="441.30" width="9.4" height="7.57" fill="#e29494"/>
<rect x="445.62" y="418.38" width="9.4" height="22.92" fill="#fdd99f"/>
<rect x="445.62" y="494.40" width="9.4" height="32.61" fill="#0857ac"/>
<rect x="445.62" y="527.01" width="9.4" height="28.90" fill="#88a6dc"/>
<rect x="445.62" y="555.91" width="9.4" height="23.52" fill="#9db78b"/>
<rect x="463.83" y="484.15" width="9.4" height="10.25" fill="#b21c34"/>
<rect x="463.83" y="473.19" width="9.4" height="10.96" fill="#f7b73c"/>
<rect x="463.83" y="454.46" width="9.4" height="18.74" fill="#427e2f"/>
<rect x="463.83" y="445.88" width="9.4" height="8.57" fill="#e29494"/>
<rect x="463.83" y="418.98" width="9.4" height="26.91" fill="#fdd99f"/>
<rect x="463.83" y="494.40" width="9.4" height="35.60" fill="#0857ac"/>
<rect x="463.83" y="530.00" width="9.4" height="11.16" fill="#9c9c9e"/>
<rect x="463.83" y="541.16" width="9.4" height="9.77" fill="#88a6dc"/>
<rect x="463.83" y="550.93" width="9.4" height="22.92" fill="#9db78b"/>
<rect x="35" y="493.95" width="448" height="0.9" fill="#5a4a3e"/>
<polyline points="49.70,498.7 67.91,502.7 86.12,507.7 104.33,506.1 122.54,505.7 140.75,507.3 158.96,508.7 177.17,509.7 195.38,513.7 213.59,522.6 231.80,515.6 250.01,522.0 268.22,524.0 286.43,518.6 304.64,516.0 322.85,508.7 341.06,504.1 359.27,502.7 377.48,505.7 395.69,500.7 413.90,501.7 432.11,502.7 450.32,503.7 468.53,498.1" fill="none" stroke="#000" stroke-width="2.2" stroke-linejoin="round"/>
<rect x="35" y="400.45" width="6" height="1.5" fill="#222"/>
<rect x="477.5" y="400.45" width="6" height="1.5" fill="#222"/>
<rect x="35" y="412.25" width="3" height="1.2" fill="#222"/>
<rect x="480.5" y="412.25" width="3" height="1.2" fill="#222"/>
<text x="30.6" y="407.0" font-size="14.8" font-weight="normal" text-anchor="end" fill="#1c1c1c" textLength="12.4" lengthAdjust="spacingAndGlyphs" stroke="#1c1c1c" stroke-width="0.2">20</text>
<rect x="35" y="423.75" width="6" height="1.5" fill="#222"/>
<rect x="477.5" y="423.75" width="6" height="1.5" fill="#222"/>
<rect x="35" y="435.55" width="3" height="1.2" fill="#222"/>
<rect x="480.5" y="435.55" width="3" height="1.2" fill="#222"/>
<text x="30.6" y="430.3" font-size="14.8" font-weight="normal" text-anchor="end" fill="#1c1c1c" textLength="12.4" lengthAdjust="spacingAndGlyphs" stroke="#1c1c1c" stroke-width="0.2">15</text>
<rect x="35" y="447.05" width="6" height="1.5" fill="#222"/>
<rect x="477.5" y="447.05" width="6" height="1.5" fill="#222"/>
<rect x="35" y="458.85" width="3" height="1.2" fill="#222"/>
<rect x="480.5" y="458.85" width="3" height="1.2" fill="#222"/>
<text x="30.6" y="453.6" font-size="14.8" font-weight="normal" text-anchor="end" fill="#1c1c1c" textLength="12.4" lengthAdjust="spacingAndGlyphs" stroke="#1c1c1c" stroke-width="0.2">10</text>
<rect x="35" y="470.35" width="6" height="1.5" fill="#222"/>
<rect x="477.5" y="470.35" width="6" height="1.5" fill="#222"/>
<rect x="35" y="482.15" width="3" height="1.2" fill="#222"/>
<rect x="480.5" y="482.15" width="3" height="1.2" fill="#222"/>
<text x="30.6" y="476.9" font-size="14.8" font-weight="normal" text-anchor="end" fill="#1c1c1c" textLength="7.2" lengthAdjust="spacingAndGlyphs" stroke="#1c1c1c" stroke-width="0.2">5</text>
<rect x="35" y="493.65" width="6" height="1.5" fill="#222"/>
<rect x="477.5" y="493.65" width="6" height="1.5" fill="#222"/>
<rect x="35" y="505.45" width="3" height="1.2" fill="#222"/>
<rect x="480.5" y="505.45" width="3" height="1.2" fill="#222"/>
<text x="30.6" y="500.2" font-size="14.8" font-weight="normal" text-anchor="end" fill="#1c1c1c" textLength="7.2" lengthAdjust="spacingAndGlyphs" stroke="#1c1c1c" stroke-width="0.2">0</text>
<rect x="35" y="516.95" width="6" height="1.5" fill="#222"/>
<rect x="477.5" y="516.95" width="6" height="1.5" fill="#222"/>
<rect x="35" y="528.75" width="3" height="1.2" fill="#222"/>
<rect x="480.5" y="528.75" width="3" height="1.2" fill="#222"/>
<text x="30.6" y="523.5" font-size="14.8" font-weight="normal" text-anchor="end" fill="#1c1c1c" textLength="13.6" lengthAdjust="spacingAndGlyphs" stroke="#1c1c1c" stroke-width="0.2">−5</text>
<rect x="35" y="540.25" width="6" height="1.5" fill="#222"/>
<rect x="477.5" y="540.25" width="6" height="1.5" fill="#222"/>
<rect x="35" y="552.05" width="3" height="1.2" fill="#222"/>
<rect x="480.5" y="552.05" width="3" height="1.2" fill="#222"/>
<text x="30.6" y="546.8" font-size="14.8" font-weight="normal" text-anchor="end" fill="#1c1c1c" textLength="19.4" lengthAdjust="spacingAndGlyphs" stroke="#1c1c1c" stroke-width="0.2">−10</text>
<rect x="35" y="563.55" width="6" height="1.5" fill="#222"/>
<rect x="477.5" y="563.55" width="6" height="1.5" fill="#222"/>
<rect x="35" y="575.35" width="3" height="1.2" fill="#222"/>
<rect x="480.5" y="575.35" width="3" height="1.2" fill="#222"/>
<text x="30.6" y="570.1" font-size="14.8" font-weight="normal" text-anchor="end" fill="#1c1c1c" textLength="19.4" lengthAdjust="spacingAndGlyphs" stroke="#1c1c1c" stroke-width="0.2">−15</text>
<rect x="35" y="586.85" width="6" height="1.5" fill="#222"/>
<rect x="477.5" y="586.85" width="6" height="1.5" fill="#222"/>
<rect x="35" y="598.65" width="3" height="1.2" fill="#222"/>
<rect x="480.5" y="598.65" width="3" height="1.2" fill="#222"/>
<text x="30.6" y="593.4" font-size="14.8" font-weight="normal" text-anchor="end" fill="#1c1c1c" textLength="19.4" lengthAdjust="spacingAndGlyphs" stroke="#1c1c1c" stroke-width="0.2">−20</text>
<rect x="35" y="610.15" width="6" height="1.5" fill="#222"/>
<rect x="477.5" y="610.15" width="6" height="1.5" fill="#222"/>
<text x="30.6" y="616.7" font-size="14.8" font-weight="normal" text-anchor="end" fill="#1c1c1c" textLength="19.4" lengthAdjust="spacingAndGlyphs" stroke="#1c1c1c" stroke-width="0.2">−25</text>
<rect x="35" y="610.1" width="448" height="1.8" fill="#555"/>
<rect x="49.10" y="605" width="1.3" height="5" fill="#333"/>
<rect x="67.31" y="605" width="1.3" height="5" fill="#333"/>
<rect x="85.52" y="605" width="1.3" height="5" fill="#333"/>
<rect x="103.73" y="605" width="1.3" height="5" fill="#333"/>
<rect x="121.94" y="605" width="1.3" height="5" fill="#333"/>
<rect x="140.15" y="605" width="1.3" height="5" fill="#333"/>
<rect x="158.36" y="605" width="1.3" height="5" fill="#333"/>
<rect x="176.57" y="605" width="1.3" height="5" fill="#333"/>
<rect x="194.78" y="605" width="1.3" height="5" fill="#333"/>
<rect x="212.99" y="605" width="1.3" height="5" fill="#333"/>
<rect x="231.20" y="605" width="1.3" height="5" fill="#333"/>
<rect x="249.41" y="605" width="1.3" height="5" fill="#333"/>
<rect x="267.62" y="605" width="1.3" height="5" fill="#333"/>
<rect x="285.83" y="605" width="1.3" height="5" fill="#333"/>
<rect x="304.04" y="605" width="1.3" height="5" fill="#333"/>
<rect x="322.25" y="605" width="1.3" height="5" fill="#333"/>
<rect x="340.46" y="605" width="1.3" height="5" fill="#333"/>
<rect x="358.67" y="605" width="1.3" height="5" fill="#333"/>
<rect x="376.88" y="605" width="1.3" height="5" fill="#333"/>
<rect x="395.09" y="605" width="1.3" height="5" fill="#333"/>
<rect x="413.30" y="605" width="1.3" height="5" fill="#333"/>
<rect x="431.51" y="605" width="1.3" height="5" fill="#333"/>
<rect x="449.72" y="605" width="1.3" height="5" fill="#333"/>
<rect x="467.93" y="605" width="1.3" height="5" fill="#333"/>
<text x="49.70" y="625.2" font-size="15" font-weight="normal" text-anchor="middle" fill="#1c1c1c" textLength="23" lengthAdjust="spacingAndGlyphs" stroke="#1c1c1c" stroke-width="0.25">1990</text>
<text x="140.75" y="625.2" font-size="15" font-weight="normal" text-anchor="middle" fill="#1c1c1c" textLength="11.5" lengthAdjust="spacingAndGlyphs" stroke="#1c1c1c" stroke-width="0.25">95</text>
<text x="231.80" y="625.2" font-size="15" font-weight="normal" text-anchor="middle" fill="#1c1c1c" textLength="23" lengthAdjust="spacingAndGlyphs" stroke="#1c1c1c" stroke-width="0.25">2000</text>
<text x="322.85" y="625.2" font-size="15" font-weight="normal" text-anchor="middle" fill="#1c1c1c" textLength="11.5" lengthAdjust="spacingAndGlyphs" stroke="#1c1c1c" stroke-width="0.25">05</text>
<text x="413.90" y="625.2" font-size="15" font-weight="normal" text-anchor="middle" fill="#1c1c1c" textLength="11.5" lengthAdjust="spacingAndGlyphs" stroke="#1c1c1c" stroke-width="0.25">10</text>
<text x="468.53" y="625.2" font-size="15" font-weight="normal" text-anchor="middle" fill="#1c1c1c" textLength="11.5" lengthAdjust="spacingAndGlyphs" stroke="#1c1c1c" stroke-width="0.25">13</text>
<text x="51.5" y="418.7" font-size="15" font-weight="normal" text-anchor="start" fill="#1c1c1c" textLength="109.5" lengthAdjust="spacingAndGlyphs" stroke="#1c1c1c" stroke-width="0.12">Дисбалансы запасов</text>
<text x="15.8" y="27.8" font-size="19" font-weight="bold" text-anchor="start" fill="#1c1c1c" textLength="223" lengthAdjust="spacingAndGlyphs" stroke="#1c1c1c" stroke-width="0.5">Меняющаяся конфигурация</text>
<text x="14.6" y="56.4" font-size="17.3" font-weight="normal" text-anchor="start" fill="#1c1c1c" textLength="432.4" lengthAdjust="spacingAndGlyphs" stroke="#1c1c1c" stroke-width="0.3">Дисбалансы счета текущих операций существенно сократились</text>
<text x="14.6" y="76.9" font-size="17.3" font-weight="normal" text-anchor="start" fill="#1c1c1c" textLength="444.0" lengthAdjust="spacingAndGlyphs" stroke="#1c1c1c" stroke-width="0.3">после достижения ими пика восемь лет назад, а их конфигурация</text>
<text x="14.6" y="97.4" font-size="17.3" font-weight="normal" text-anchor="start" fill="#1c1c1c" textLength="426.0" lengthAdjust="spacingAndGlyphs" stroke="#1c1c1c" stroke-width="0.3">заметно изменилась. Однако дисбалансы потоков продолжали</text>
<text x="14.6" y="118.0" font-size="17.3" font-weight="normal" text-anchor="start" fill="#1c1c1c" textLength="102.6" lengthAdjust="spacingAndGlyphs" stroke="#1c1c1c" stroke-width="0.3">увеличиваться.</text>
<text x="15.2" y="140.6" font-size="12.4" font-weight="normal" text-anchor="start" fill="#1c1c1c" textLength="148.6" lengthAdjust="spacingAndGlyphs" stroke="#1c1c1c" stroke-width="0.15">(В процентах мирового ВВП)</text>
<rect x="49.4" y="641.6" width="28.6" height="6.8" fill="#0857ac"/>
<text x="83.6" y="648.8" font-size="12.8" font-weight="normal" text-anchor="start" fill="#1c1c1c" textLength="25" lengthAdjust="spacingAndGlyphs" stroke="#1c1c1c" stroke-width="0.2">США</text>
<rect x="49.4" y="662.3" width="28.6" height="6.8" fill="#b21c34"/>
<text x="83.6" y="669.5" font-size="12.8" font-weight="normal" text-anchor="start" fill="#1c1c1c" textLength="29.6" lengthAdjust="spacingAndGlyphs" stroke="#1c1c1c" stroke-width="0.2">Китай</text>
<rect x="49.4" y="683.4" width="28.6" height="6.8" fill="#f7b73c"/>
<text x="83.6" y="690.6" font-size="12.8" font-weight="normal" text-anchor="start" fill="#1c1c1c" textLength="50.2" lengthAdjust="spacingAndGlyphs" stroke="#1c1c1c" stroke-width="0.2">Германия</text>
<rect x="49.4" y="704.4" width="28.6" height="6.8" fill="#427e2f"/>
<text x="83.6" y="711.6" font-size="12.8" font-weight="normal" text-anchor="start" fill="#1c1c1c" textLength="37.6" lengthAdjust="spacingAndGlyphs" stroke="#1c1c1c" stroke-width="0.2">Япония</text>
<rect x="202.8" y="641.6" width="28.6" height="6.8" fill="#9c9c9e"/>
<text x="237.4" y="648.8" font-size="12.8" font-weight="normal" text-anchor="start" fill="#1c1c1c" textLength="95.6" lengthAdjust="spacingAndGlyphs" stroke="#1c1c1c" stroke-width="0.2">Европа, профицит</text>
<rect x="202.8" y="662.3" width="28.6" height="6.8" fill="#88a6dc"/>
<text x="237.4" y="669.5" font-size="12.8" font-weight="normal" text-anchor="start" fill="#1c1c1c" textLength="90" lengthAdjust="spacingAndGlyphs" stroke="#1c1c1c" stroke-width="0.2">Европа, дефицит</text>
<rect x="202.8" y="683.4" width="28.6" height="6.8" fill="#e29494"/>
<text x="237.4" y="690.6" font-size="12.8" font-weight="normal" text-anchor="start" fill="#1c1c1c" textLength="104.6" lengthAdjust="spacingAndGlyphs" stroke="#1c1c1c" stroke-width="0.2">Другие страны Азии</text>
<rect x="202.8" y="704.4" width="28.6" height="6.8" fill="#fdd99f"/>
<text x="237.4" y="711.6" font-size="12.8" font-weight="normal" text-anchor="start" fill="#1c1c1c" textLength="99" lengthAdjust="spacingAndGlyphs" stroke="#1c1c1c" stroke-width="0.2">Экспортеры нефти</text>
<rect x="366.2" y="641.6" width="28.6" height="6.8" fill="#9db78b"/>
<text x="400.2" y="648.8" font-size="12.8" font-weight="normal" text-anchor="start" fill="#1c1c1c" textLength="79.6" lengthAdjust="spacingAndGlyphs" stroke="#1c1c1c" stroke-width="0.2">Остальной мир</text>
<rect x="366.2" y="665.3" width="28.8" height="2" fill="#000"/>
<text x="400.2" y="669.5" font-size="12.8" font-weight="normal" text-anchor="start" fill="#1c1c1c" textLength="69.4" lengthAdjust="spacingAndGlyphs" stroke="#1c1c1c" stroke-width="0.2">Расхождение</text>
<text x="25.2" y="744.20" font-size="10.6" font-weight="normal" text-anchor="start" fill="#1c1c1c" textLength="159.8" lengthAdjust="spacingAndGlyphs" stroke="#1c1c1c" stroke-width="0.15">Источник: расчеты персонала МВФ.</text>
<text x="25.2" y="757.80" font-size="10.6" font-weight="normal" text-anchor="start" fill="#1c1c1c" textLength="363.3" lengthAdjust="spacingAndGlyphs" stroke="#1c1c1c" stroke-width="0.15">Боливия, Бруней-Даруссалам, Венесуэла, Габон, Ирак, Иран, Йемен, Казахстан,</text>
<text x="25.2" y="771.40" font-size="10.6" font-weight="normal" text-anchor="start" fill="#1c1c1c" textLength="344.8" lengthAdjust="spacingAndGlyphs" stroke="#1c1c1c" stroke-width="0.15">Катар, Республика Конго, Кувейт, Ливия, Нигерия, Норвегия, Объединенные</text>
<text x="25.2" y="785.00" font-size="10.6" font-weight="normal" text-anchor="start" fill="#1c1c1c" textLength="315.8" lengthAdjust="spacingAndGlyphs" stroke="#1c1c1c" stroke-width="0.15">Арабские Эмираты, Оман, Россия, Саудовская Аравия, Тимор-Лешти,</text>
<text x="25.2" y="798.60" font-size="10.6" font-weight="normal" text-anchor="start" fill="#1c1c1c" textLength="334.3" lengthAdjust="spacingAndGlyphs" stroke="#1c1c1c" stroke-width="0.15">Тринидад и Тобаго, Туркменистан, Чад, Эквадор, Экваториальная Гвинея,</text>
<text x="25.2" y="812.20" font-size="10.6" font-weight="normal" text-anchor="start" fill="#1c1c1c" textLength="349.8" lengthAdjust="spacingAndGlyphs" stroke="#1c1c1c" stroke-width="0.15">Южный Судан; другие страны Азии = САР Гонконг, Индия, Индонезия, Корея,</text>
<text x="25.2" y="825.80" font-size="10.6" font-weight="normal" text-anchor="start" fill="#1c1c1c" textLength="320.3" lengthAdjust="spacingAndGlyphs" stroke="#1c1c1c" stroke-width="0.15">Малайзия, Сингапур, Тайвань, провинция Китая, Таиланд, Филиппины.</text>
<text x="25.2" y="839.40" font-size="10.6" font-weight="normal" text-anchor="start" fill="#1c1c1c" textLength="320.8" lengthAdjust="spacingAndGlyphs" stroke="#1c1c1c" stroke-width="0.15">Страны Европы (за исключением Германии и Норвегии) помещаются в</text>
<text x="25.2" y="853.00" font-size="10.6" font-weight="normal" text-anchor="start" fill="#1c1c1c" textLength="347.8" lengthAdjust="spacingAndGlyphs" stroke="#1c1c1c" stroke-width="0.15">категорию стран с профицитом или стран с дефицитом каждый год отдельно</text>
<text x="25.2" y="866.60" font-size="10.6" font-weight="normal" text-anchor="start" fill="#1c1c1c" textLength="355.8" lengthAdjust="spacingAndGlyphs" stroke="#1c1c1c" stroke-width="0.15">в зависимости от знака (положительного или отрицательного, соответственно)</text>
<text x="25.2" y="880.20" font-size="10.6" font-weight="normal" text-anchor="start" fill="#1c1c1c" textLength="239.8" lengthAdjust="spacingAndGlyphs" stroke="#1c1c1c" stroke-width="0.15">перед значением их сальдо счета текущих операций.</text>
</svg>
</body></html>
